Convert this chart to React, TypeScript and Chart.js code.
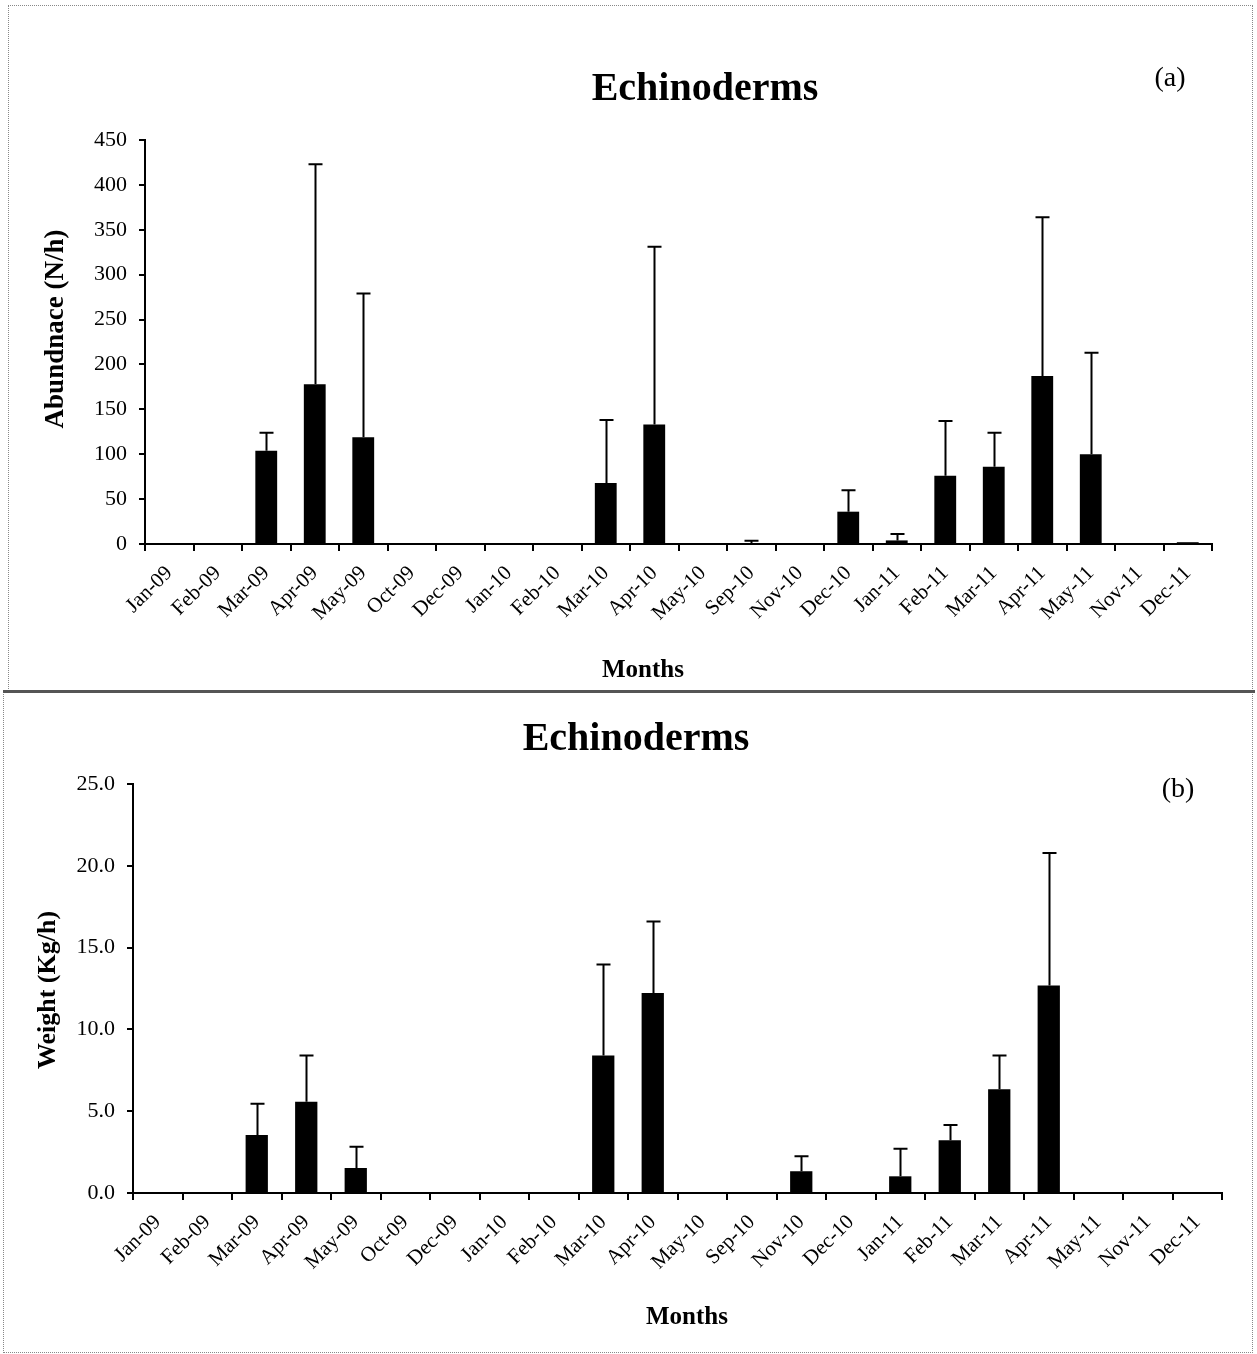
import React, { useEffect, useRef } from "react";
import { Chart, registerables } from "chart.js";

Chart.register(...registerables);

// ---------- data ----------
const months = [
  "Jan-09", "Feb-09", "Mar-09", "Apr-09", "May-09", "Oct-09", "Dec-09",
  "Jan-10", "Feb-10", "Mar-10", "Apr-10", "May-10", "Sep-10", "Nov-10",
  "Dec-10", "Jan-11", "Feb-11", "Mar-11", "Apr-11", "May-11", "Nov-11", "Dec-11",
];

// (a) Abundance (N/h): mean and upper standard deviation
const abundanceMean = [1, 0, 104, 178, 119, 0, 0, 0, 0, 68, 133, 0, 0.5, 0, 36, 4, 76, 86, 187, 100, 0.5, 2];
const abundanceSD = [0, 0, 20, 245, 160, 0, 0, 0, 0, 70, 198, 0, 3, 0, 24, 7, 61, 38, 177, 113, 0, 0];

// (b) Weight (Kg/h): mean and upper standard deviation
const weightMean = [0, 0.02, 3.55, 5.57, 1.53, 0.05, 0.03, 0.05, 0.05, 8.41, 12.23, 0.03, 0.05, 1.33, 0.03, 1.02, 3.22, 6.34, 12.69, 0.03, 0.02, 0.02];
const weightSD = [0, 0, 1.9, 2.83, 1.3, 0, 0, 0, 0, 5.56, 4.37, 0, 0, 0.91, 0, 1.69, 0.94, 2.07, 8.09, 0, 0, 0];

const chartTitle = "Echinoderms";
const xAxisTitle = "Months";
const yTitleA = "Abundnace (N/h)";
const yTitleB = "Weight (Kg/h)";
const tagA = "(a)";
const tagB = "(b)";

const SERIF = "'Liberation Serif', 'Times New Roman', serif";

type PanelCfg = {
  width: number;
  height: number;
  plotLeft: number;
  plotRight: number;
  plotTop: number;
  plotBottom: number;
  yMax: number;
  yStep: number;
  decimals: number;
  means: number[];
  sds: number[];
  title: string;
  titleX: number;
  titleBase: number;
  tag: string;
  tagX: number;
  tagBase: number;
  yTitle: string;
  yTitleX: number;
  yTitleY: number;
  yTitleSize: number;
  xTitle: string;
  xTitleX: number;
  xTitleBase: number;
};

function buildChart(canvas: HTMLCanvasElement, c: PanelCfg) {
  const errorBars = {
    id: "errorBars",
    afterDatasetsDraw(chart: any) {
      const ctx = chart.ctx;
      const meta = chart.getDatasetMeta(0);
      const ys = chart.scales.y;
      ctx.save();
      ctx.strokeStyle = "#000";
      ctx.lineWidth = 2;
      meta.data.forEach((bar: any, i: number) => {
        const sd = c.sds[i];
        if (!sd) return;
        const top = ys.getPixelForValue(c.means[i] + sd);
        const x = Math.round(bar.x) + 0.5;
        ctx.beginPath();
        ctx.moveTo(x, bar.y);
        ctx.lineTo(x, top);
        ctx.moveTo(x - 7, top);
        ctx.lineTo(x + 7, top);
        ctx.stroke();
      });
      ctx.restore();
    },
  };

  const texts = {
    id: "panelTexts",
    afterDraw(chart: any) {
      const ctx = chart.ctx;
      ctx.save();
      ctx.fillStyle = "#000";
      ctx.textAlign = "center";
      ctx.textBaseline = "alphabetic";
      ctx.font = `bold 40px ${SERIF}`;
      ctx.fillText(c.title, c.titleX, c.titleBase);
      ctx.font = `28px ${SERIF}`;
      ctx.fillText(c.tag, c.tagX, c.tagBase);
      ctx.font = `bold 25px ${SERIF}`;
      ctx.fillText(c.xTitle, c.xTitleX, c.xTitleBase);
      ctx.translate(c.yTitleX, c.yTitleY);
      ctx.rotate(-Math.PI / 2);
      ctx.textBaseline = "middle";
      ctx.font = `bold ${c.yTitleSize}px ${SERIF}`;
      ctx.fillText(c.yTitle, 0, 0);
      ctx.restore();
    },
  };

  return new Chart(canvas, {
    type: "bar",
    data: {
      labels: months,
      datasets: [
        {
          data: c.means,
          backgroundColor: "#000",
          borderWidth: 0,
          barPercentage: 0.45,
          categoryPercentage: 1,
        },
      ],
    },
    options: {
      animation: false,
      responsive: false,
      devicePixelRatio: 1,
      events: [],
      layout: {
        padding: {
          left: 0,
          top: c.plotTop,
          right: c.width - c.plotRight,
          bottom: 0,
        },
      },
      plugins: {
        legend: { display: false },
        title: { display: false },
        tooltip: { enabled: false },
      },
      scales: {
        x: {
          type: "category",
          offset: true,
          afterFit: (s: any) => {
            s.height = c.height - c.plotBottom;
          },
          grid: {
            offset: true,
            drawOnChartArea: false,
            drawTicks: true,
            tickLength: 7,
            color: "#000",
            lineWidth: 2,
          },
          border: { display: true, color: "#000", width: 2 },
          ticks: {
            autoSkip: false,
            minRotation: 45,
            maxRotation: 45,
            padding: 10,
            color: "#000",
            font: { family: SERIF, size: 21 },
          },
        },
        y: {
          min: 0,
          max: c.yMax,
          afterFit: (s: any) => {
            s.width = c.plotLeft;
          },
          grid: {
            drawOnChartArea: false,
            drawTicks: true,
            tickLength: 6,
            color: "#000",
            lineWidth: 2,
          },
          border: { display: true, color: "#000", width: 2 },
          ticks: {
            stepSize: c.yStep,
            padding: 12,
            color: "#000",
            font: { family: SERIF, size: 22 },
            callback: (v: any) => Number(v).toFixed(c.decimals),
          },
        },
      },
    },
    plugins: [errorBars, texts],
  } as any);
}

function Panel({ cfg, top }: { cfg: PanelCfg; top: number }) {
  const ref = useRef<HTMLCanvasElement | null>(null);
  useEffect(() => {
    if (!ref.current) return;
    const chart = buildChart(ref.current, cfg);
    return () => chart.destroy();
  }, [cfg]);
  return (
    <canvas
      ref={ref}
      width={cfg.width}
      height={cfg.height}
      style={{ position: "absolute", left: 0, top, width: cfg.width, height: cfg.height }}
    />
  );
}

const panelA: PanelCfg = {
  width: 1257,
  height: 692,
  plotLeft: 145,
  plotRight: 1212,
  plotTop: 140,
  plotBottom: 544,
  yMax: 450,
  yStep: 50,
  decimals: 0,
  means: abundanceMean,
  sds: abundanceSD,
  title: chartTitle,
  titleX: 705,
  titleBase: 100,
  tag: tagA,
  tagX: 1170,
  tagBase: 86,
  yTitle: yTitleA,
  yTitleX: 56,
  yTitleY: 329,
  yTitleSize: 27,
  xTitle: xAxisTitle,
  xTitleX: 643,
  xTitleBase: 677,
};

const panelB: PanelCfg = {
  width: 1257,
  height: 662,
  plotLeft: 133,
  plotRight: 1222,
  plotTop: 92,
  plotBottom: 501,
  yMax: 25,
  yStep: 5,
  decimals: 1,
  means: weightMean,
  sds: weightSD,
  title: chartTitle,
  titleX: 636,
  titleBase: 58,
  tag: tagB,
  tagX: 1178,
  tagBase: 105,
  yTitle: yTitleB,
  yTitleX: 48,
  yTitleY: 298,
  yTitleSize: 26,
  xTitle: xAxisTitle,
  xTitleX: 687,
  xTitleBase: 632,
};

export default function App() {
  return (
    <div
      style={{
        position: "absolute",
        left: 0,
        top: 0,
        width: 1257,
        height: 1354,
        background: "#fff",
        overflow: "hidden",
      }}
    >
      <Panel cfg={panelA} top={0} />
      <Panel cfg={panelB} top={692} />
      <div
        style={{
          position: "absolute",
          left: 8,
          top: 5,
          width: 1243,
          height: 686,
          border: "1px dotted #888",
          pointerEvents: "none",
        }}
      />
      <div
        style={{
          position: "absolute",
          left: 3,
          top: 692,
          width: 1248,
          height: 659,
          border: "1px dotted #888",
          pointerEvents: "none",
        }}
      />
      <div
        style={{
          position: "absolute",
          left: 3,
          top: 690,
          width: 1252,
          height: 3,
          background: "#555",
          pointerEvents: "none",
        }}
      />
    </div>
  );
}
